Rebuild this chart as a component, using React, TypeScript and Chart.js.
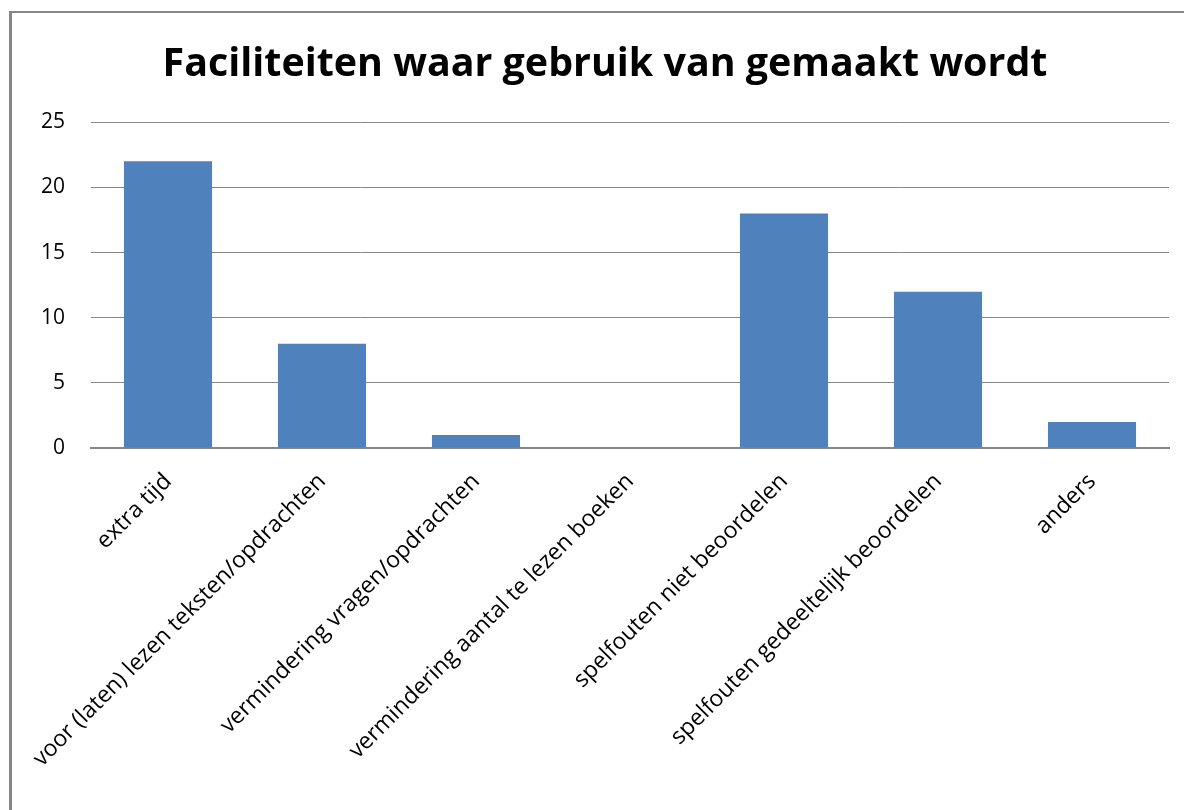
import React, { useEffect, useRef } from "react";
import { Chart, registerables } from "chart.js";

Chart.register(...registerables);

const categories = [
  "extra tijd",
  "voor (laten) lezen teksten/opdrachten",
  "vermindering vragen/opdrachten",
  "vermindering aantal te lezen boeken",
  "spelfouten niet beoordelen",
  "spelfouten gedeeltelijk beoordelen",
  "anders",
];
const values = [22, 8, 1, 0, 18, 12, 2];
const yTicks = [0, 5, 10, 15, 20, 25];
const titleText = "Faciliteiten waar gebruik van gemaakt wordt";

export default function App() {
  const ref = useRef<HTMLCanvasElement | null>(null);
  useEffect(() => {
    if (!ref.current) return;
    const chart = new Chart(ref.current, {
      type: "bar",
      data: {
        labels: categories,
        datasets: [
          {
            data: values,
            backgroundColor: "#4F81BD",
            borderWidth: 0,
            barPercentage: 0.572,
            categoryPercentage: 1,
          },
        ],
      },
      options: {
        animation: false,
        responsive: false,
        layout: { padding: { left: 41, right: 15, top: 0, bottom: 0 } },
        plugins: {
          legend: { display: false },
          tooltip: { enabled: false },
          title: {
            display: true,
            text: titleText,
            color: "#000000",
            font: { family: "Open Sans", size: 39.4, weight: "bold", lineHeight: 1.2 },
            padding: { top: 41, bottom: 34 },
          },
        },
        scales: {
          x: {
            grid: { display: false, drawTicks: false },
            border: { display: true, color: "#868686", width: 2 },
            ticks: {
              color: "#000000",
              font: { family: "Open Sans", size: 23 },
              maxRotation: 45,
              minRotation: 45,
              padding: 20,
              autoSkip: false,
            },
            afterFit: (s: any) => {
              s.height = 362;
            },
          },
          y: {
            min: 0,
            max: 25,
            afterBuildTicks: (s: any) => {
              s.ticks = yTicks.map((v) => ({ value: v }));
            },
            grid: { color: "#868686", lineWidth: 1, drawTicks: false },
            border: { display: false },
            ticks: {
              color: "#000000",
              font: { family: "Open Sans", size: 21 },
              padding: 26,
            },
            afterFit: (s: any) => {
              s.width = 50;
            },
          },
        },
      },
    });
    return () => chart.destroy();
  }, []);
  return (
    <div style={{ position: "fixed", left: 0, top: 0, width: 1184, height: 810, background: "#fff" }}>
      <div
        style={{
          position: "absolute",
          left: 9,
          top: 11,
          width: 1300,
          height: 900,
          borderLeft: "3px solid #878787",
          borderTop: "2px solid #878787",
        }}
      />
      <canvas ref={ref} width={1184} height={810} style={{ position: "absolute", left: 0, top: 0 }} />
    </div>
  );
}
